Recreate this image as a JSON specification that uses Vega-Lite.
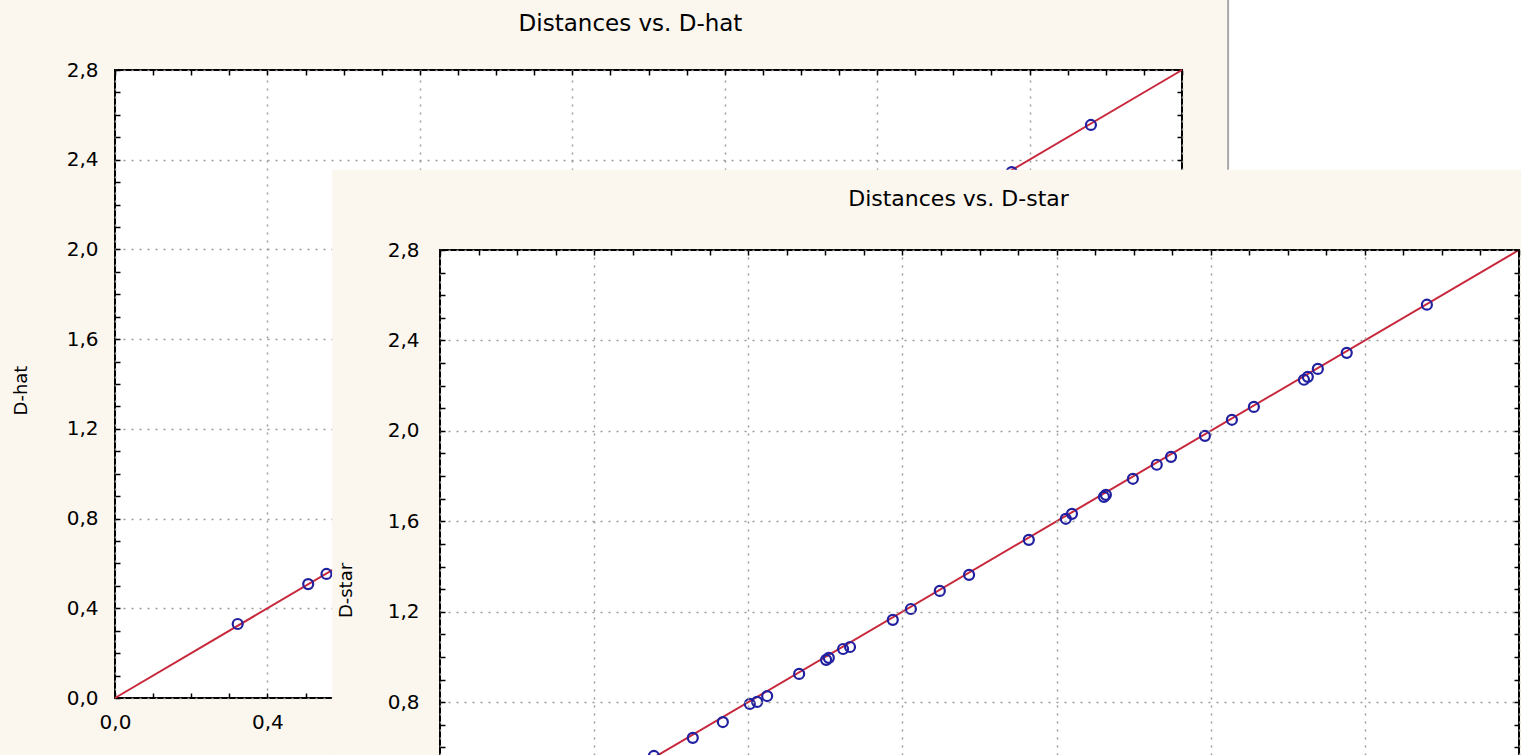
{
  "$schema": "https://vega.github.io/schema/vega-lite/v6.json",
  "width": 1067,
  "height": 628,
  "autosize": {"type": "none"},
  "padding": {"left": 115, "top": 70, "right": 339, "bottom": 57},
  "background": "#FBF6EE",
  "view": {"fill": "white", "stroke": "black", "strokeWidth": 2},
  "config": {
    "axis": {
      "labelFont": "DejaVu Sans", "labelFontSize": 20, "labelColor": "#000",
      "labelOverlap": false, "labelFlush": false, "labelPadding": 22,
      "domain": false, "tickColor": "#000", "tickSize": -5, "tickWidth": 1.5,
      "gridColor": "#9a9a9a", "gridDash": [2, 6], "gridWidth": 1.5,
      "titleFont": "DejaVu Sans", "titleFontSize": 18, "titleFontWeight": "normal", "titleColor": "#000"
    }
  },
  "datasets": {
    "pts": [
      {"dist": 0.322, "dhat": 0.330, "dstar": 0.328},
      {"dist": 0.507, "dhat": 0.508, "dstar": 0.505},
      {"dist": 0.555, "dhat": 0.553, "dstar": 0.562},
      {"dist": 0.656, "dhat": 0.645, "dstar": 0.642},
      {"dist": 0.734, "dhat": 0.716, "dstar": 0.712},
      {"dist": 0.804, "dhat": 0.795, "dstar": 0.792},
      {"dist": 0.823, "dhat": 0.805, "dstar": 0.801},
      {"dist": 0.849, "dhat": 0.830, "dstar": 0.827},
      {"dist": 0.932, "dhat": 0.928, "dstar": 0.925},
      {"dist": 1.002, "dhat": 0.990, "dstar": 0.987},
      {"dist": 1.009, "dhat": 0.999, "dstar": 0.996},
      {"dist": 1.046, "dhat": 1.038, "dstar": 1.035},
      {"dist": 1.064, "dhat": 1.047, "dstar": 1.044},
      {"dist": 1.175, "dhat": 1.167, "dstar": 1.164},
      {"dist": 1.222, "dhat": 1.215, "dstar": 1.212},
      {"dist": 1.297, "dhat": 1.295, "dstar": 1.292},
      {"dist": 1.373, "dhat": 1.366, "dstar": 1.363},
      {"dist": 1.528, "dhat": 1.521, "dstar": 1.518},
      {"dist": 1.624, "dhat": 1.614, "dstar": 1.611},
      {"dist": 1.640, "dhat": 1.636, "dstar": 1.633},
      {"dist": 1.723, "dhat": 1.711, "dstar": 1.708},
      {"dist": 1.728, "dhat": 1.720, "dstar": 1.717},
      {"dist": 1.798, "dhat": 1.791, "dstar": 1.788},
      {"dist": 1.860, "dhat": 1.853, "dstar": 1.850},
      {"dist": 1.897, "dhat": 1.888, "dstar": 1.885},
      {"dist": 1.985, "dhat": 1.981, "dstar": 1.978},
      {"dist": 2.055, "dhat": 2.052, "dstar": 2.049},
      {"dist": 2.112, "dhat": 2.109, "dstar": 2.106},
      {"dist": 2.242, "dhat": 2.229, "dstar": 2.226},
      {"dist": 2.252, "dhat": 2.242, "dstar": 2.239},
      {"dist": 2.278, "dhat": 2.277, "dstar": 2.274},
      {"dist": 2.353, "dhat": 2.345, "dstar": 2.345},
      {"dist": 2.561, "dhat": 2.555, "dstar": 2.558}
    ],
    "fit": [
      {"x": 0, "y": 0},
      {"x": 2.8, "y": 2.8}
    ]
  },
  "layer": [
    {
      "layer": [
        {
          "data": {"values": [{}]},
          "mark": {"type": "rect", "fill": "white", "stroke": "#a8a8a8", "strokeWidth": 2},
          "encoding": {
            "x": {"datum": 2.921, "type": "quantitative", "scale": {"domain": [0, 2.8], "nice": false, "zero": false}, "axis": null},
            "x2": {"datum": 4.2},
            "y": {"datum": 3.2, "type": "quantitative", "scale": {"domain": [0, 2.8], "nice": false, "zero": false}, "axis": null},
            "y2": {"datum": 2.0}
          }
        },
        {
          "data": {"name": "fit"},
          "mark": {"type": "line", "color": "#c8283c", "strokeWidth": 2},
          "encoding": {
            "x": {"field": "x", "type": "quantitative", "scale": {"domain": [0, 2.8], "nice": false, "zero": false},
              "axis": {"orient": "top", "values": [0,0.1,0.2,0.3,0.4,0.5,0.6,0.7,0.8,0.9,1,1.1,1.2,1.3,1.4,1.5,1.6,1.7,1.8,1.9,2,2.1,2.2,2.3,2.4,2.5,2.6,2.7,2.8],
                "labels": false, "grid": true,
                "gridOpacity": {"condition": {"test": "abs(datum.value*2.5-round(datum.value*2.5))<0.01", "value": 1}, "value": 0},
                "title": "Distances vs. D-hat", "titleFontSize": 23, "titleX": 515, "titlePadding": 34, "zindex": 0}},
            "y": {"field": "y", "type": "quantitative", "scale": {"domain": [0, 2.8], "nice": false, "zero": false},
              "axis": {"orient": "right", "values": [0,0.1,0.2,0.3,0.4,0.5,0.6,0.7,0.8,0.9,1,1.1,1.2,1.3,1.4,1.5,1.6,1.7,1.8,1.9,2,2.1,2.2,2.3,2.4,2.5,2.6,2.7,2.8],
                "labels": false, "grid": false, "title": null, "zindex": 0}}
          }
        },
        {
          "data": {"name": "pts"},
          "mark": {"type": "point", "shape": "circle", "filled": false, "size": 100, "stroke": "#2020a0", "strokeWidth": 2.2, "opacity": 1},
          "encoding": {
            "x": {"field": "dist", "type": "quantitative", "scale": {"domain": [0, 2.8], "nice": false, "zero": false},
              "axis": {"orient": "bottom", "values": [0,0.1,0.2,0.3,0.4,0.5,0.6,0.7,0.8,0.9,1,1.1,1.2,1.3,1.4,1.5,1.6,1.7,1.8,1.9,2,2.1,2.2,2.3,2.4,2.5,2.6,2.7,2.8],
                "labelExpr": "datum.value < 0.45 && abs(datum.value*2.5-round(datum.value*2.5))<0.01 ? replace(format(datum.value,'.1f'),'.',',') : ''",
                "labelPadding": 19, "grid": false, "title": null, "zindex": 0}},
            "y": {"field": "dhat", "type": "quantitative", "scale": {"domain": [0, 2.8], "nice": false, "zero": false},
              "axis": {"orient": "left", "values": [0,0.1,0.2,0.3,0.4,0.5,0.6,0.7,0.8,0.9,1,1.1,1.2,1.3,1.4,1.5,1.6,1.7,1.8,1.9,2,2.1,2.2,2.3,2.4,2.5,2.6,2.7,2.8],
                "labelExpr": "abs(datum.value*2.5-round(datum.value*2.5))<0.01 ? replace(format(datum.value,'.1f'),'.',',') : ''",
                "grid": true,
                "gridOpacity": {"condition": {"test": "abs(datum.value*2.5-round(datum.value*2.5))<0.01", "value": 1}, "value": 0},
                "title": "D-hat", "titlePadding": 36, "titleY": 320, "zindex": 0}}
          }
        }
      ]
    },
    {
      "layer": [
        {
          "data": {"values": [{}]},
          "mark": {"type": "rect", "fill": "#FBF6EE"},
          "encoding": {
            "x": {"datum": -0.28, "type": "quantitative", "scale": {"domain": [0, 2.8], "range": [325, 1404], "nice": false, "zero": false}, "axis": null},
            "x2": {"datum": 3.2},
            "y": {"datum": 3.155, "type": "quantitative", "scale": {"domain": [0, 2.8], "range": [813, 180], "nice": false, "zero": false}, "axis": null},
            "y2": {"datum": -0.6}
          }
        },
        {
          "data": {"values": [{}]},
          "mark": {"type": "rect", "fill": "white", "stroke": "black", "strokeWidth": 2},
          "encoding": {
            "x": {"datum": 0, "type": "quantitative", "scale": {"domain": [0, 2.8], "range": [325, 1404], "nice": false, "zero": false}, "axis": null},
            "x2": {"datum": 2.8},
            "y": {"datum": 0, "type": "quantitative", "scale": {"domain": [0, 2.8], "range": [813, 180], "nice": false, "zero": false}, "axis": null},
            "y2": {"datum": 2.8}
          }
        },
        {
          "data": {"name": "fit"},
          "mark": {"type": "line", "color": "#c8283c", "strokeWidth": 2},
          "encoding": {
            "x": {"field": "x", "type": "quantitative", "scale": {"domain": [0, 2.8], "range": [325, 1404], "nice": false, "zero": false},
              "axis": {"orient": "top", "offset": -180, "values": [0,0.1,0.2,0.3,0.4,0.5,0.6,0.7,0.8,0.9,1,1.1,1.2,1.3,1.4,1.5,1.6,1.7,1.8,1.9,2,2.1,2.2,2.3,2.4,2.5,2.6,2.7,2.8],
                "labels": false, "grid": true,
                "gridOpacity": {"condition": {"test": "abs(datum.value*2.5-round(datum.value*2.5))<0.01", "value": 1}, "value": 0},
                "title": "Distances vs. D-star", "titleFontSize": 22, "titleX": 843, "titlePadding": 39, "zindex": 1}},
            "y": {"field": "y", "type": "quantitative", "scale": {"domain": [0, 2.8], "range": [813, 180], "nice": false, "zero": false},
              "axis": {"orient": "right", "offset": 337, "values": [0,0.1,0.2,0.3,0.4,0.5,0.6,0.7,0.8,0.9,1,1.1,1.2,1.3,1.4,1.5,1.6,1.7,1.8,1.9,2,2.1,2.2,2.3,2.4,2.5,2.6,2.7,2.8],
                "labels": false, "grid": false, "title": null, "zindex": 1}}
          }
        },
        {
          "data": {"name": "pts"},
          "mark": {"type": "point", "shape": "circle", "filled": false, "size": 100, "stroke": "#2020a0", "strokeWidth": 2.2, "opacity": 1},
          "encoding": {
            "x": {"field": "dist", "type": "quantitative", "scale": {"domain": [0, 2.8], "range": [325, 1404], "nice": false, "zero": false},
              "axis": {"orient": "bottom", "offset": 185, "values": [0,0.1,0.2,0.3,0.4,0.5,0.6,0.7,0.8,0.9,1,1.1,1.2,1.3,1.4,1.5,1.6,1.7,1.8,1.9,2,2.1,2.2,2.3,2.4,2.5,2.6,2.7,2.8],
                "labels": false, "grid": false, "title": null, "zindex": 1}},
            "y": {"field": "dstar", "type": "quantitative", "scale": {"domain": [0, 2.8], "range": [813, 180], "nice": false, "zero": false},
              "axis": {"orient": "left", "offset": -325, "values": [0,0.1,0.2,0.3,0.4,0.5,0.6,0.7,0.8,0.9,1,1.1,1.2,1.3,1.4,1.5,1.6,1.7,1.8,1.9,2,2.1,2.2,2.3,2.4,2.5,2.6,2.7,2.8],
                "labelExpr": "datum.value > 0.75 && abs(datum.value*2.5-round(datum.value*2.5))<0.01 ? replace(format(datum.value,'.1f'),'.',',') : ''",
                "labelPadding": 26,
                "grid": true,
                "gridOpacity": {"condition": {"test": "abs(datum.value*2.5-round(datum.value*2.5))<0.01", "value": 1}, "value": 0},
                "title": "D-star", "titlePadding": 32, "titleY": 520, "zindex": 1}}
          }
        }
      ]
    }
  ],
  "resolve": {
    "scale": {"x": "independent", "y": "independent"},
    "axis": {"x": "independent", "y": "independent"}
  }
}
